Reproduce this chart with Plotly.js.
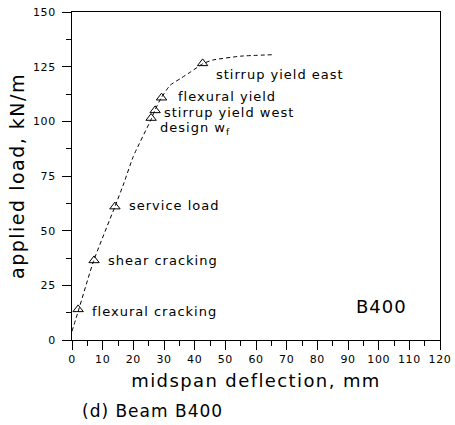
<!DOCTYPE html>
<html>
<head>
<meta charset="utf-8">
<script src="https://cdn.plot.ly/plotly-3.0.1.min.js"></script>
<style>
  html, body { margin: 0; padding: 0; background: #fff; }
  #chart { width: 455px; height: 425px; }
  .annotation-text { letter-spacing: 1px; }
  .xtitle { letter-spacing: 1.4px; }
  .ytitle { letter-spacing: 1.5px; }
  .xtick text, .ytick text { letter-spacing: 0.6px; }
</style>
</head>
<body>
<div id="chart"></div>
<script>
// Load–deflection curve (dashed)
const curveX = [0, 2, 7, 14, 17, 20, 26, 27, 29, 32, 35.5, 38.8, 42.6, 45.8, 55, 66];
const curveY = [4, 13, 36, 61, 72, 84, 101.5, 105, 110.5, 116.5, 119.7, 122.7, 126.3, 128, 129.8, 130.5];

// Key events (open triangles)
const eventLabels = ["flexural cracking", "shear cracking", "service load", "design w<sub>f</sub>",
                     "stirrup yield west", "flexural yield", "stirrup yield east"];
const eventX = [2, 7.2, 14, 25.8, 27.1, 29.2, 42.6];
const eventY = [14, 36.4, 61, 101.5, 105, 110.8, 126.5];

const xTickVals = [0, 10, 20, 30, 40, 50, 60, 70, 80, 90, 100, 110, 120];
const yTickVals = [0, 25, 50, 75, 100, 125, 150];

const specimen = "B400";
const caption = "(d) Beam B400";

// label offsets (px) relative to each event marker
const labelShiftX = [12, 12, 12, 7, 7, 14, 11];
const labelShiftY = [-2, 0, 1, -10, -2, 1, -11];

const FONT = "DejaVu Sans, sans-serif";

const traces = [
  {
    x: curveX, y: curveY, type: "scatter", mode: "lines",
    line: { color: "#000", width: 1, dash: "4px,3px", shape: "spline", smoothing: 0.5 },
    hoverinfo: "skip", showlegend: false
  },
  {
    x: eventX, y: eventY, type: "scatter", mode: "markers",
    marker: { symbol: "triangle-up-open", size: 9, color: "#000", line: { width: 1, color: "#000" } },
    showlegend: false
  }
];

const annotations = eventLabels.map((t, i) => ({
  x: eventX[i], y: eventY[i], xref: "x", yref: "y",
  text: t, showarrow: false, xanchor: "left", yanchor: "middle",
  xshift: labelShiftX[i], yshift: labelShiftY[i],
  font: { family: FONT, size: 13, color: "#000" }
}));

annotations.push({
  x: 101, y: 15.5, xref: "x", yref: "y", text: specimen, showarrow: false,
  xanchor: "center", yanchor: "middle",
  font: { family: FONT, size: 18, color: "#000" }
});

const L = 72, R = 15, T = 12, B = 85, W = 455, H = 425;
const pw = W - L - R, ph = H - T - B;

annotations.push({
  x: (80 - L) / pw, y: (H - B - 411) / ph, xref: "paper", yref: "paper",
  text: caption, showarrow: false, xanchor: "left", yanchor: "middle",
  font: { family: FONT, size: 17, color: "#000" }
});

const layout = {
  width: W, height: H,
  margin: { l: L, r: R, t: T, b: B },
  paper_bgcolor: "#fff", plot_bgcolor: "#fff",
  font: { family: FONT, color: "#000" },
  xaxis: {
    range: [0, 120], tickvals: xTickVals, ticks: "outside", ticklen: 9, tickwidth: 1,
    tickcolor: "#000", showline: true, linecolor: "#000", linewidth: 1, mirror: true,
    showgrid: false, zeroline: false,
    minor: { dtick: 5, ticks: "outside", ticklen: 5, tickwidth: 1, tickcolor: "#000", showgrid: false },
    tickfont: { family: FONT, size: 11, color: "#000" },
    title: { text: "midspan deflection, mm", font: { family: FONT, size: 18, color: "#000" }, standoff: 9 }
  },
  yaxis: {
    range: [0, 150], tickvals: yTickVals, ticks: "outside", ticklen: 9, tickwidth: 1,
    tickcolor: "#000", showline: true, linecolor: "#000", linewidth: 1, mirror: true,
    showgrid: false, zeroline: false,
    minor: { dtick: 12.5, ticks: "outside", ticklen: 5, tickwidth: 1, tickcolor: "#000", showgrid: false },
    tickfont: { family: FONT, size: 11, color: "#000" },
    ticklabelstandoff: 4,
    title: { text: "applied load, kN/m", font: { family: FONT, size: 19, color: "#000" }, standoff: 3 }
  },
  annotations: annotations
};

Plotly.newPlot("chart", traces, layout, { staticPlot: true, displayModeBar: false });
</script>
</body>
</html>
